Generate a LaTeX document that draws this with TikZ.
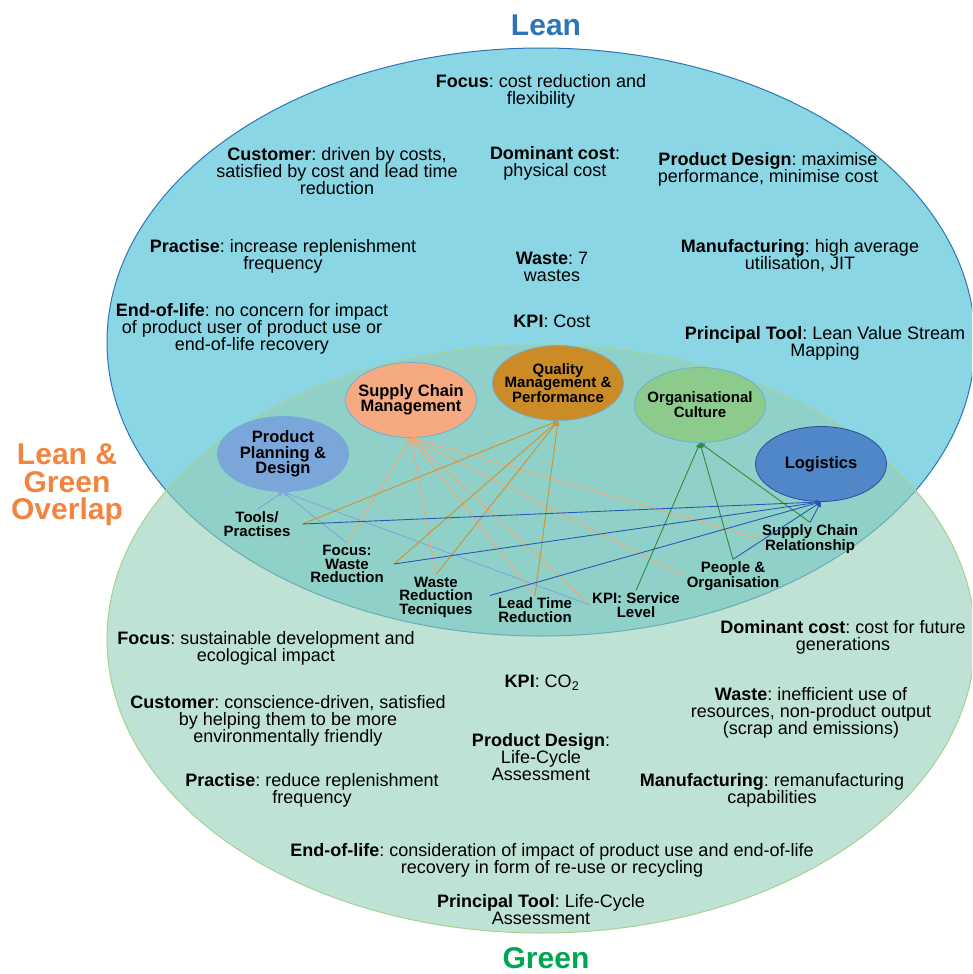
\documentclass[tikz,border=0pt]{standalone}
\usepackage{fontspec}
\setmainfont{Liberation Sans}
\usetikzlibrary{arrows.meta,shapes.geometric}
\frenchspacing

\definecolor{leanfill}{RGB}{138,214,228}
\definecolor{leanedge}{RGB}{46,117,182}
\definecolor{greenfill}{RGB}{147,207,182}
\definecolor{greenedge}{RGB}{169,209,142}
\definecolor{greentitle}{RGB}{0,166,81}
\definecolor{overlaptitle}{RGB}{243,132,64}
\definecolor{ppdfill}{RGB}{122,166,218}
\definecolor{scmfill}{RGB}{246,170,130}
\definecolor{qmpfill}{RGB}{203,140,40}
\definecolor{ocfill}{RGB}{140,203,140}
\definecolor{logfill}{RGB}{80,135,200}
\definecolor{topicedge}{RGB}{110,175,215}
\definecolor{logedge}{RGB}{40,80,160}
\definecolor{ppdline}{RGB}{130,165,225}
\definecolor{scmline}{RGB}{245,165,120}
\definecolor{qmpline}{RGB}{210,145,45}
\definecolor{ocline}{RGB}{50,140,60}
\definecolor{logline}{RGB}{40,90,180}

\tikzset{
    body/.style={align=center, inner sep=0pt, font=\fontsize{18}{17}\selectfont},
    tag/.style={align=center, inner sep=2pt, font=\bfseries\fontsize{15}{13.5}\selectfont},
    topic/.style={ellipse, align=center, inner xsep=-12pt, inner ysep=0pt, minimum width=131pt,
        minimum height=75pt, line width=0.8pt, draw=topicedge,
        font=\bfseries\fontsize{16.5}{15.5}\selectfont},
    heading/.style={align=center, inner sep=0pt, font=\bfseries\fontsize{30}{27.5}\selectfont},
    link/.style={line width=0.9pt, -{Triangle[length=5pt,width=4.5pt]}}
}

\begin{document}
\begin{tikzpicture}[x=1pt, y=-1pt]
    \useasboundingbox (0,0) rectangle (972,974);
    \clip (0,0) rectangle (972,974);

    % the two sets
    \fill[leanfill] (541,342) ellipse [x radius=434pt, y radius=294pt];
    \draw[leanedge, line width=1pt] (541,342) ellipse [x radius=434pt, y radius=294pt];
    \fill[greenfill, fill opacity=0.6] (541,639) ellipse [x radius=434pt, y radius=294pt];
    \draw[greenedge, line width=1pt] (541,639) ellipse [x radius=434pt, y radius=294pt];

    % titles
    \node[heading, text=leanedge] (lean) at (546,25) {Lean};
    \node[heading, text=greentitle] (green) at (546,958) {Green};
    \node[heading, text=overlaptitle] (overlap) at (67,485) {Lean \&\\Green\\Overlap};

    % lean
    \node[body] (lfocus) at (541,91) {\textbf{Focus}: cost reduction and\\flexibility};
    \node[body] (lcust) at (337,171) {\textbf{Customer}: driven by costs,\\satisfied by cost and lead time\\reduction};
    \node[body] (ldom) at (555,163) {\textbf{Dominant cost}:\\physical cost};
    \node[body] (ldesign) at (768,169) {\textbf{Product Design}: maximise\\performance, minimise cost};
    \node[body] (lprac) at (283,256) {\textbf{Practise}: increase replenishment\\frequency};
    \node[body] (lwaste) at (552,267) {\textbf{Waste}: 7\\wastes};
    \node[body] (lmanu) at (800,256) {\textbf{Manufacturing}: high average\\utilisation, JIT};
    \node[body] (leol) at (252,329) {\textbf{End-of-life}: no concern for impact\\of product user of product use or\\end-of-life recovery};
    \node[body] (lkpi) at (552,321) {\textbf{KPI}: Cost};
    \node[body] (ltool) at (825,343) {\textbf{Principal Tool}: Lean Value Stream\\Mapping};

    % green
    \node[body] (gfocus) at (266,648) {\textbf{Focus}: sustainable development and\\ecological impact};
    \node[body] (gdom) at (843,637) {\textbf{Dominant cost}: cost for future\\generations};
    \node[body] (gkpi) at (542,683) {\textbf{KPI}: CO\textsubscript{2}};
    \node[body] (gcust) at (288,721) {\textbf{Customer}: conscience-driven, satisfied\\by helping them to be more\\environmentally friendly};
    \node[body] (gwaste) at (811,713) {\textbf{Waste}: inefficient use of\\resources, non-product output\\(scrap and emissions)};
    \node[body] (gdesign) at (541,757) {\textbf{Product Design}:\\Life-Cycle\\Assessment};
    \node[body] (gprac) at (312,790) {\textbf{Practise}: reduce replenishment\\frequency};
    \node[body] (gmanu) at (772,790) {\textbf{Manufacturing}: remanufacturing\\capabilities};
    \node[body] (geol) at (552,860) {\textbf{End-of-life}: consideration of impact of product use and end-of-life\\recovery in form of re-use or recycling};
    \node[body] (gtool) at (541,910) {\textbf{Principal Tool}: Life-Cycle\\Assessment};

    % overlap topics
    \node[topic, fill=ppdfill] (ppd) at (283,454) {Product\\Planning \&\\Design};
    \node[topic, fill=scmfill] (scm) at (411,400) {Supply Chain\\Management};
    \node[topic, fill=qmpfill, font=\bfseries\fontsize{15}{13.5}\selectfont] (qmp) at (558,383) {Quality\\Management \&\\Performance};
    \node[topic, fill=ocfill, font=\bfseries\fontsize{15}{13.5}\selectfont] (oc) at (700,405) {Organisational\\Culture};
    \node[topic, fill=logfill, draw=logedge] (logi) at (821,464) {Logistics};

    \node[tag] (tools) at (257,524) {Tools/\\Practises};
    \node[tag] (fwr) at (347,564) {Focus:\\Waste\\Reduction};
    \node[tag] (wrt) at (436,597) {Waste\\Reduction\\Tecniques};
    \node[tag] (ltr) at (535,610) {Lead Time\\Reduction};
    \node[tag] (kpis) at (636,605) {KPI: Service\\Level};
    \node[tag] (peo) at (733,576) {People \&\\Organisation};
    \node[tag] (scr) at (810,539) {Supply Chain\\Relationship};

    % links
    \draw[link, ppdline] (tools.north) -- (ppd.south);
    \draw[link, ppdline] (fwr.north) -- (ppd.south);
    \draw[link, ppdline] (kpis.west) -- (ppd.south);

    \draw[link, scmline] (fwr.north) -- (scm.south);
    \draw[link, scmline] (wrt.north) -- (scm.south);
    \draw[link, scmline] (ltr.north) -- (scm.south);
    \draw[link, scmline] (kpis.west) -- (scm.south);
    \draw[link, scmline] (peo.west) -- (scm.south);
    \draw[link, scmline] (scr.west) -- (scm.south);

    \draw[link, qmpline] ([xshift=10pt]tools.east) -- (qmp.south);
    \draw[link, qmpline] ([xshift=8pt]fwr.east) -- (qmp.south);
    \draw[link, qmpline] (wrt.north) -- (qmp.south);
    \draw[link, qmpline] (ltr.north) -- (qmp.south);

    \draw[link, ocline] (kpis.north) -- (oc.south);
    \draw[link, ocline] (peo.north) -- (oc.south);
    \draw[link, ocline] (scr.north) -- (oc.south);

    \draw[link, logline] ([xshift=10pt]tools.east) -- (logi.south);
    \draw[link, logline] ([xshift=8pt]fwr.east) -- (logi.south);
    \draw[link, logline] ([xshift=-6pt]ltr.north west) -- (logi.south);
    \draw[link, logline] (peo.north) -- (logi.south);
    \draw[link, logline] (scr.north) -- (logi.south);
\end{tikzpicture}
\end{document}
